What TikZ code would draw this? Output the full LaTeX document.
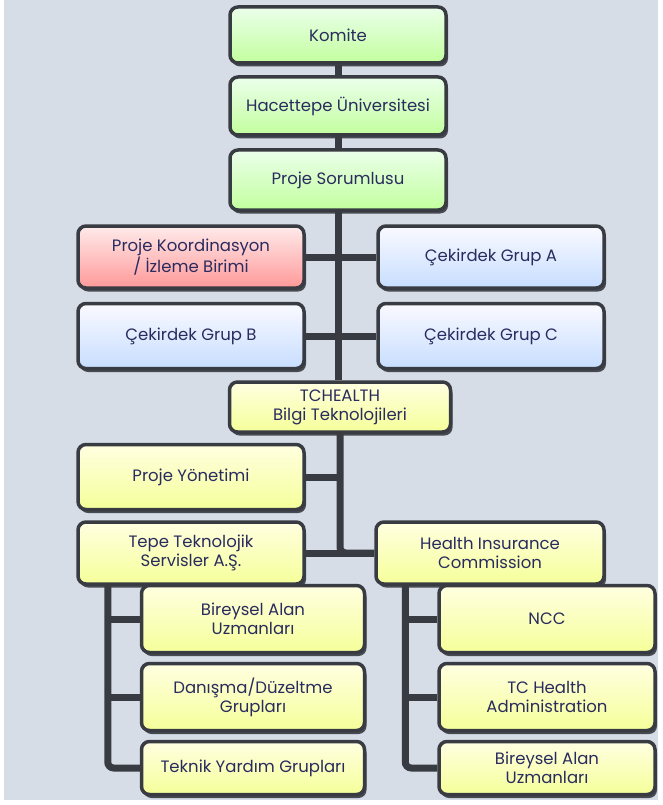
\documentclass[tikz,border=0pt]{standalone}
\usepackage{fontspec}
\setmainfont{Poppins}
\usepackage{tikz}
\usetikzlibrary{calc,shadows,backgrounds}
\definecolor{frame}{HTML}{383B41}
\definecolor{ink}{HTML}{2A2B5E}
\definecolor{bg}{HTML}{D6DDE7}
\tikzset{
  box/.style={draw=frame,line width=3.5pt,rounded corners=8pt,align=center,text=ink,
    font=\fontsize{16.5}{19}\selectfont,inner sep=2pt,
    drop shadow={shadow xshift=2pt,shadow yshift=-3.5pt,fill=frame,opacity=.9}},
  greenbox/.style={box,top color=green!8!white,bottom color=green!50!lime!38!white},
  pinkbox/.style={box,top color=red!8!white,bottom color=red!40!white},
  bluebox/.style={box,top color=blue!2!white,bottom color=blue!60!cyan!22!white},
  yellowbox/.style={box,top color=yellow!12!white,bottom color=yellow!60!lime!40!white},
  conn/.style={draw=frame,line width=7pt,rounded corners=6pt},
}
\begin{document}
\begin{tikzpicture}[x=1pt,y=-1pt]
	\node[greenbox,minimum width=216pt,minimum height=56pt](komite)at(338,35) {Komite};
	\node[greenbox,minimum width=216pt,minimum height=58pt](hacettepe)at(338,106) {Hacettepe Üniversitesi};
	\node[greenbox,minimum width=216pt,minimum height=60pt](sorumlu)at(338,180) {Proje Sorumlusu};
	
	\node[pinkbox,minimum width=226pt,minimum height=62pt](koord)at(191,257) {Proje Koordinasyon\\/ İzleme Birimi};
	\node[bluebox,minimum width=226pt,minimum height=62pt](cekA)at(491,257) {Çekirdek Grup A};
	\node[bluebox,minimum width=226pt,minimum height=65pt](cekB)at(191,336) {Çekirdek Grup B};
	\node[bluebox,minimum width=226pt,minimum height=65pt](cekC)at(491,336) {Çekirdek Grup C};
	
	\node[yellowbox,minimum width=221pt,minimum height=50pt](tchealth)at(340,407) {TCHEALTH\\Bilgi Teknolojileri};
	\node[yellowbox,minimum width=226pt,minimum height=65pt](yonetim)at(191,477) {Proje Yönetimi};
	\node[yellowbox,minimum width=226pt,minimum height=62pt](tepe)at(191,553) {Tepe Teknolojik\\Servisler A.Ş.};
	\node[yellowbox,minimum width=228pt,minimum height=62pt](health)at(490,553) {Health Insurance\\Commission};
	
	\node[yellowbox,minimum width=223pt,minimum height=67pt](bire1)at(253,619) {Bireysel Alan\\Uzmanları};
	\node[yellowbox,minimum width=223pt,minimum height=67pt](danisma)at(253,697) {Danışma/Düzeltme\\Grupları};
	\node[yellowbox,minimum width=223pt,minimum height=53pt](teknik)at(253,768) {Teknik Yardım Grupları};
	\node[yellowbox,minimum width=216pt,minimum height=67pt](ncc)at(547,619) {NCC};
	\node[yellowbox,minimum width=216pt,minimum height=67pt](tcadmin)at(547,697) {TC Health\\Administration};
	\node[yellowbox,minimum width=216pt,minimum height=53pt](bire2)at(547,768) {Bireysel Alan\\Uzmanları};
	
	\coordinate(lbus)at($(bire1.west)+(-32,0)$);
	\coordinate(rbus)at($(ncc.west)+(-32,0)$);
	
	\begin{scope}[on background layer]
		\fill[white](0,0)rectangle(663,805);
		\fill[bg](4,0)rectangle(658,800);
		
		\draw[conn](komite)--(sorumlu);
		\draw[conn](sorumlu)--(sorumlu|-tchealth.north);
		\draw[conn](koord)--(cekA);
		\draw[conn](cekB)--(cekC);
		
		\draw[conn](tchealth)|-(health);
		\draw[conn](yonetim)--(yonetim-|tchealth);
		\draw[conn](tepe)--(health);
		
		\draw[conn](lbus|-tepe)|-(teknik);
		\draw[conn](lbus)--(bire1);
		\draw[conn](lbus|-danisma)--(danisma);
		
		\draw[conn](rbus|-health)|-(bire2);
		\draw[conn](rbus)--(ncc);
		\draw[conn](rbus|-tcadmin)--(tcadmin);
	\end{scope}
\end{tikzpicture}
\end{document}
